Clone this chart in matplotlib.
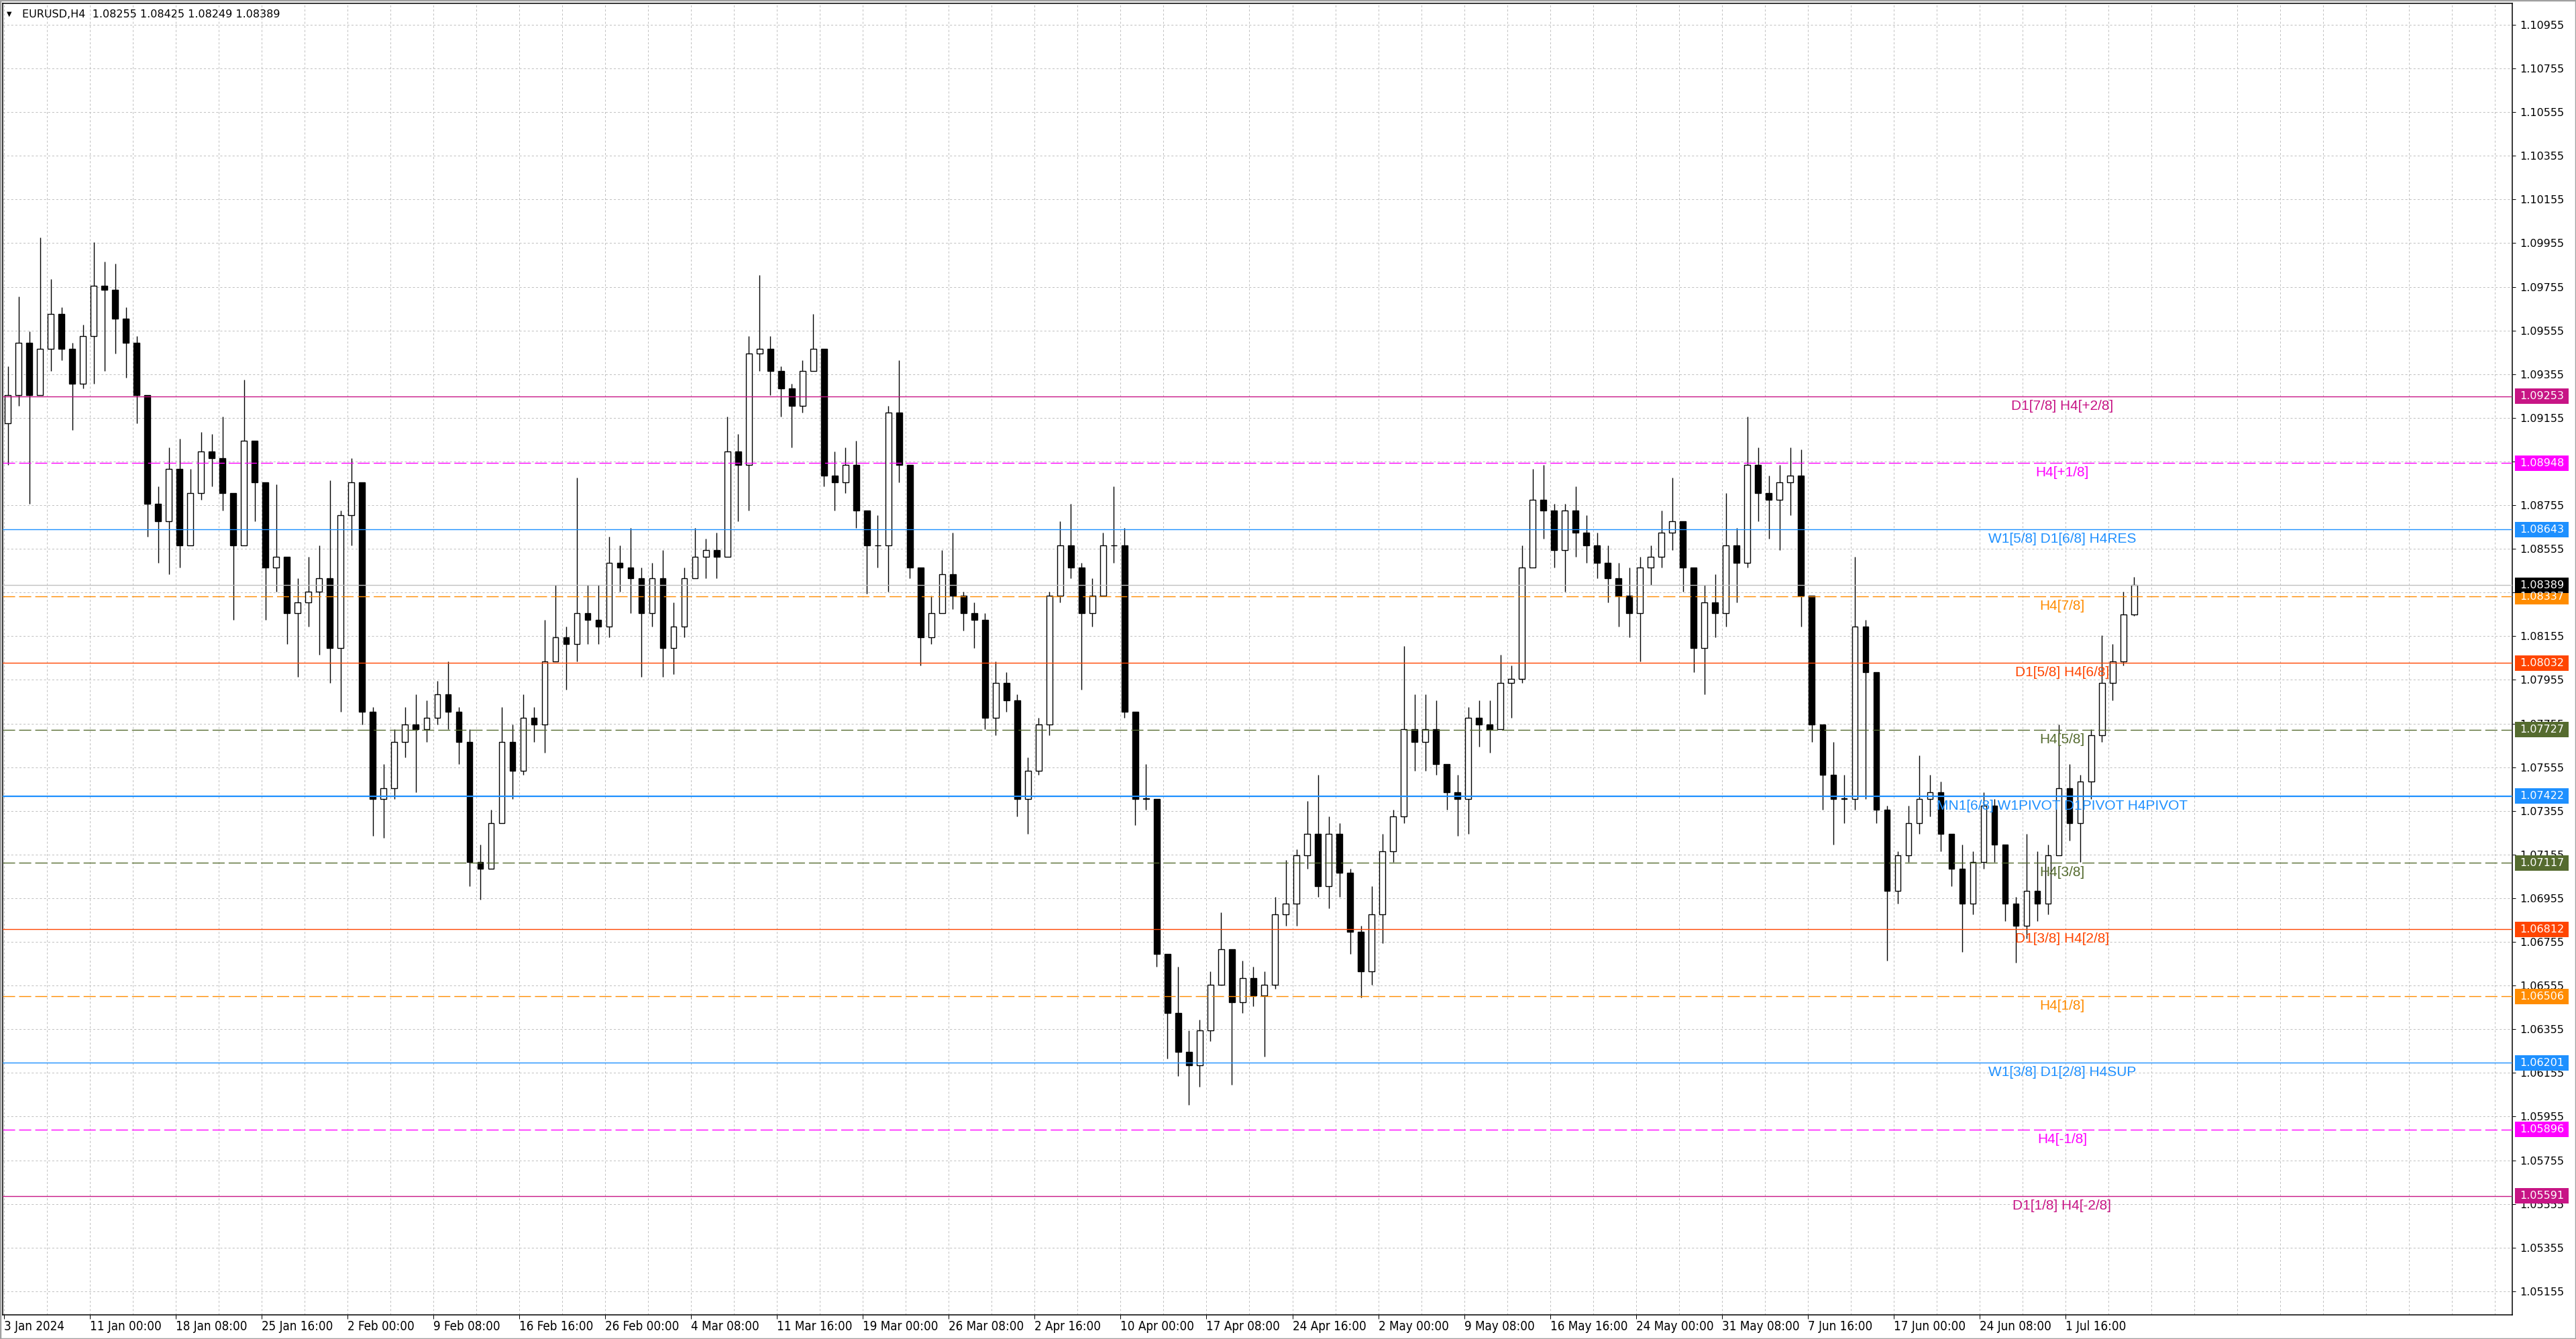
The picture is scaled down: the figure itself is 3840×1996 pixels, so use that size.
import matplotlib
matplotlib.use('Agg')
import matplotlib.pyplot as plt
import matplotlib.transforms as mtransforms
from matplotlib import font_manager
from matplotlib.patches import Rectangle
import numpy as np

# EURUSD H4, one candle per 4 H4 bars, prices in pips above 1.0000
open_first = 913
close_p = [926, 950, 926, 947, 963, 947, 931, 953, 976, 974,
           961, 950, 926, 876, 868, 892, 857, 881, 900, 897,
           881, 857, 905, 886, 847, 852, 826, 831, 836, 842,
           810, 871, 886, 781, 741, 746, 767, 775, 773, 778,
           789, 781, 767, 712, 709, 730, 767, 754, 778, 775,
           804, 815, 812, 826, 823, 820, 849, 847, 842, 826,
           842, 810, 820, 842, 852, 855, 852, 900, 894, 945,
           947, 937, 929, 921, 937, 947, 889, 886, 894, 873,
           857, 857, 918, 894, 847, 815, 826, 844, 834, 826,
           823, 778, 794, 786, 741, 754, 775, 834, 857, 847,
           826, 834, 857, 857, 781, 741, 741, 670, 643, 625,
           619, 635, 656, 672, 648, 659, 651, 656, 688, 693,
           715, 725, 701, 725, 707, 680, 662, 688, 717, 733,
           773, 767, 773, 757, 744, 741, 778, 775, 773, 794,
           796, 847, 878, 873, 855, 873, 863, 857, 849, 842,
           834, 826, 847, 852, 863, 868, 847, 810, 831, 826,
           857, 849, 894, 881, 878, 886, 889, 834, 775, 752,
           741, 741, 820, 799, 736, 699, 715, 730, 741, 744,
           725, 709, 693, 712, 738, 720, 693, 683, 699, 693,
           715, 746, 730, 749, 770, 794, 804, 825.5, 838.9]
high_p = [939, 971, 955, 998, 979, 966, 950, 958, 996, 987,
          986, 966, 953, 926, 884, 902, 906, 892, 909, 908,
          916, 878, 933, 905, 886, 885, 849, 842, 852, 857,
          887, 873, 897, 886, 783, 757, 773, 783, 789, 786,
          795, 804, 783, 773, 720, 736, 783, 775, 789, 783,
          823, 839, 820, 888, 839, 839, 861, 857, 865, 847,
          849, 855, 831, 847, 865, 860, 863, 916, 908, 953,
          981, 953, 939, 931, 942, 963, 947, 900, 902, 905,
          873, 871, 921, 942, 886, 847, 834, 855, 863, 836,
          831, 826, 804, 799, 789, 760, 778, 836, 868, 876,
          849, 842, 863, 884, 865, 781, 757, 741, 664, 664,
          635, 640, 662, 689, 672, 667, 664, 662, 696, 713,
          718, 740, 752, 733, 730, 709, 683, 701, 725, 736,
          811, 789, 789, 786, 757, 752, 783, 786, 786, 807,
          802, 857, 892, 894, 876, 876, 884, 871, 863, 857,
          849, 847, 852, 857, 873, 888, 868, 847, 839, 844,
          881, 865, 916, 902, 889, 894, 902, 901, 834, 773,
          767, 752, 852, 823, 799, 738, 717, 738, 761, 752,
          749, 725, 720, 717, 744, 741, 720, 696, 725, 717,
          720, 775, 757, 752, 773, 816, 812, 836, 842.5]
low_p = [894, 921, 876, 926, 937, 942, 910, 929, 931, 937,
         945, 934, 913, 861, 849, 844, 847, 857, 878, 884,
         873, 823, 857, 868, 823, 836, 812, 797, 820, 807,
         794, 781, 857, 775, 724, 723, 741, 760, 744, 767,
         775, 773, 757, 701, 695, 715, 730, 741, 752, 767,
         762, 804, 791, 804, 812, 812, 815, 836, 826, 797,
         820, 797, 798, 815, 842, 842, 842, 857, 868, 873,
         937, 926, 916, 902, 918, 939, 884, 873, 881, 865,
         835, 847, 836, 886, 842, 802, 812, 826, 828, 818,
         810, 773, 770, 781, 733, 725, 752, 770, 831, 842,
         791, 820, 834, 849, 778, 729, 736, 664, 622, 614,
         601, 609, 630, 656, 610, 643, 646, 623, 654, 683,
         683, 709, 696, 691, 696, 670, 650, 656, 675, 712,
         730, 754, 754, 752, 736, 724, 725, 765, 762, 773,
         778, 794, 847, 860, 847, 836, 852, 849, 842, 831,
         820, 815, 804, 839, 847, 855, 836, 799, 789, 815,
         820, 831, 847, 868, 860, 855, 871, 820, 767, 736,
         720, 730, 736, 741, 730, 667, 693, 712, 725, 733,
         717, 701, 671, 688, 709, 712, 685, 666, 677, 685,
         688, 715, 722, 712, 741, 767, 786, 802, 824.9]

tick_labels = ['3 Jan 2024', '11 Jan 00:00', '18 Jan 08:00', '25 Jan 16:00', '2 Feb 00:00',
               '9 Feb 08:00', '16 Feb 16:00', '26 Feb 00:00', '4 Mar 08:00', '11 Mar 16:00',
               '19 Mar 00:00', '26 Mar 08:00', '2 Apr 16:00', '10 Apr 00:00', '17 Apr 08:00',
               '24 Apr 16:00', '2 May 00:00', '9 May 08:00', '16 May 16:00', '24 May 00:00',
               '31 May 08:00', '7 Jun 16:00', '17 Jun 00:00', '24 Jun 08:00', '1 Jul 16:00']

level_prices = [1.09253, 1.08948, 1.08643, 1.08337, 1.08032, 1.07727, 1.07422,
                1.07117, 1.06812, 1.06506, 1.06201, 1.05896, 1.05591]
level_names = ['D1[7/8] H4[+2/8]', 'H4[+1/8]', 'W1[5/8] D1[6/8] H4RES', 'H4[7/8]',
               'D1[5/8] H4[6/8]', 'H4[5/8]', 'MN1[6/8] W1PIVOT D1PIVOT H4PIVOT', 'H4[3/8]',
               'D1[3/8] H4[2/8]', 'H4[1/8]', 'W1[3/8] D1[2/8] H4SUP', 'H4[-1/8]', 'D1[1/8] H4[-2/8]']
level_colors = ['#C71585', '#FF00FF', '#1E90FF', '#FF8C00', '#FF4500', '#556B2F', '#1E90FF',
                '#556B2F', '#FF4500', '#FF8C00', '#1E90FF', '#FF00FF', '#C71585']
level_dashed = [False, True, False, True, False, True, False, True, False, True, False, True, False]
bid = 1.08389
header = 'EURUSD,H4  1.08255 1.08425 1.08249 1.08389'

plt.rcParams['lines.scale_dashes'] = False

names = {f.name for f in font_manager.fontManager.ttflist}
if 'Liberation Sans Narrow' in names:
    xfont = dict(fontfamily='Liberation Sans Narrow', fontsize=16)
elif any(f.name == 'DejaVu Sans' and 'condensed' in str(f.stretch) for f in font_manager.fontManager.ttflist):
    xfont = dict(fontfamily='DejaVu Sans', fontstretch='condensed', fontsize=13.5)
else:
    xfont = dict(fontfamily='Liberation Sans', fontsize=13)

c = 1 + np.array(close_p, dtype=float) / 10000
h = 1 + np.array(high_p, dtype=float) / 10000
l = 1 + np.array(low_p, dtype=float) / 10000
o = np.concatenate([[1 + open_first / 10000], c[:-1]])
h = np.maximum(h, np.maximum(o, c))
l = np.minimum(l, np.minimum(o, c))
x = -30.5 + 4 * np.arange(len(c))

W, H = 3840, 1996
fig = plt.figure(figsize=(W / 100, H / 100), dpi=100)
ax = fig.add_axes([4 / W, 36 / H, 3741 / W, 1955 / H])
ax.set_xlim(-32.4, 902.4)
ax.set_ylim(1.05047, 1.11053)
px = 1955 / (1.11053 - 1.05047)  # pixels per price unit

# grid
ax.set_xticks([-32] + list(range(0, 737, 32)))
ax.set_xticks(np.arange(-16, 900, 16), minor=True)
ax.set_yticks(np.arange(1.05155, 1.1096, 0.002))
ax.grid(True, which='both', axis='x', color='#C0C0C0', lw=0.72, ls=(0, (2.2, 2.2)))
ax.grid(True, which='major', axis='y', color='#C0C0C0', lw=0.72, ls=(0, (2.2, 2.2)))
ax.set_axisbelow(True)

# candles
ax.vlines(x, l, h, color='black', lw=1.0, zorder=4)
up = c >= o
bottom = np.minimum(o, c)
height = np.maximum(np.abs(c - o), 0.00002)
ax.bar(x[up], height[up], bottom=bottom[up], width=2.2, facecolor='white',
       edgecolor='black', lw=1.0, zorder=5)
ax.bar(x[~up], height[~up], bottom=bottom[~up], width=2.2, facecolor='black',
       edgecolor='black', lw=1.0, zorder=5)

# murrey levels
blend = mtransforms.blended_transform_factory(ax.transAxes, ax.transData)
for p, name, col, dashed in zip(level_prices, level_names, level_colors, level_dashed):
    lw = 1.6 if 'PIVOT' in name else 1.0
    if dashed:
        ax.axhline(p, color=col, lw=lw, ls=(0, (13, 4.3)), zorder=6)
    else:
        ax.axhline(p, color=col, lw=lw, zorder=6)
    ax.text(3070 / 3741, p - 20 / px, name, transform=blend, ha='center', va='baseline',
            color=col, fontsize=15, fontfamily='Liberation Sans', zorder=7)
    ax.add_patch(Rectangle((1.00107, p - 11.5 / px), 0.0214, 23 / px, transform=blend,
                           facecolor=col, edgecolor='none', clip_on=False, zorder=8))
    ax.text(1.00294, p, '%.5f' % p, transform=blend, ha='left', va='center',
            color='white', fontsize=11.5, clip_on=False, zorder=9)

ax.axhline(bid, color='#C0C0C0', lw=1.0, zorder=6)
ax.add_patch(Rectangle((1.00107, bid - 11.5 / px), 0.0214, 23 / px, transform=blend,
                       facecolor='black', edgecolor='none', clip_on=False, zorder=8))
ax.text(1.00294, bid, '%.5f' % bid, transform=blend, ha='left', va='center',
        color='white', fontsize=11.5, clip_on=False, zorder=9)

# axes styling
ax.yaxis.tick_right()
ax.yaxis.set_major_formatter(matplotlib.ticker.FormatStrFormatter('%.5f'))
ax.tick_params(axis='y', which='major', length=3.6, width=0.72, pad=4.3,
               labelsize=11.5, colors='black')
ax.tick_params(axis='x', which='major', length=4.3, width=0.72, pad=1.5)
ax.tick_params(axis='x', which='minor', length=0)
ax.set_xticklabels(tick_labels, **xfont)
for lab in ax.get_xticklabels():
    lab.set_horizontalalignment('left')
for sp in ax.spines.values():
    sp.set_color('black')
    sp.set_linewidth(1.1)

fig.text(10 / W, 1 - 21 / H, '\u25bc', fontsize=7, va='center', ha='left')
fig.text(33 / W, 1 - 21 / H, header, fontsize=11.5, va='center', ha='left')
fig.patches.append(Rectangle((0, 0), 1, 1, transform=fig.transFigure, fill=False,
                             edgecolor='#A0A0A0', lw=2.5))

fig.savefig('out.png', dpi=100, facecolor='white')
